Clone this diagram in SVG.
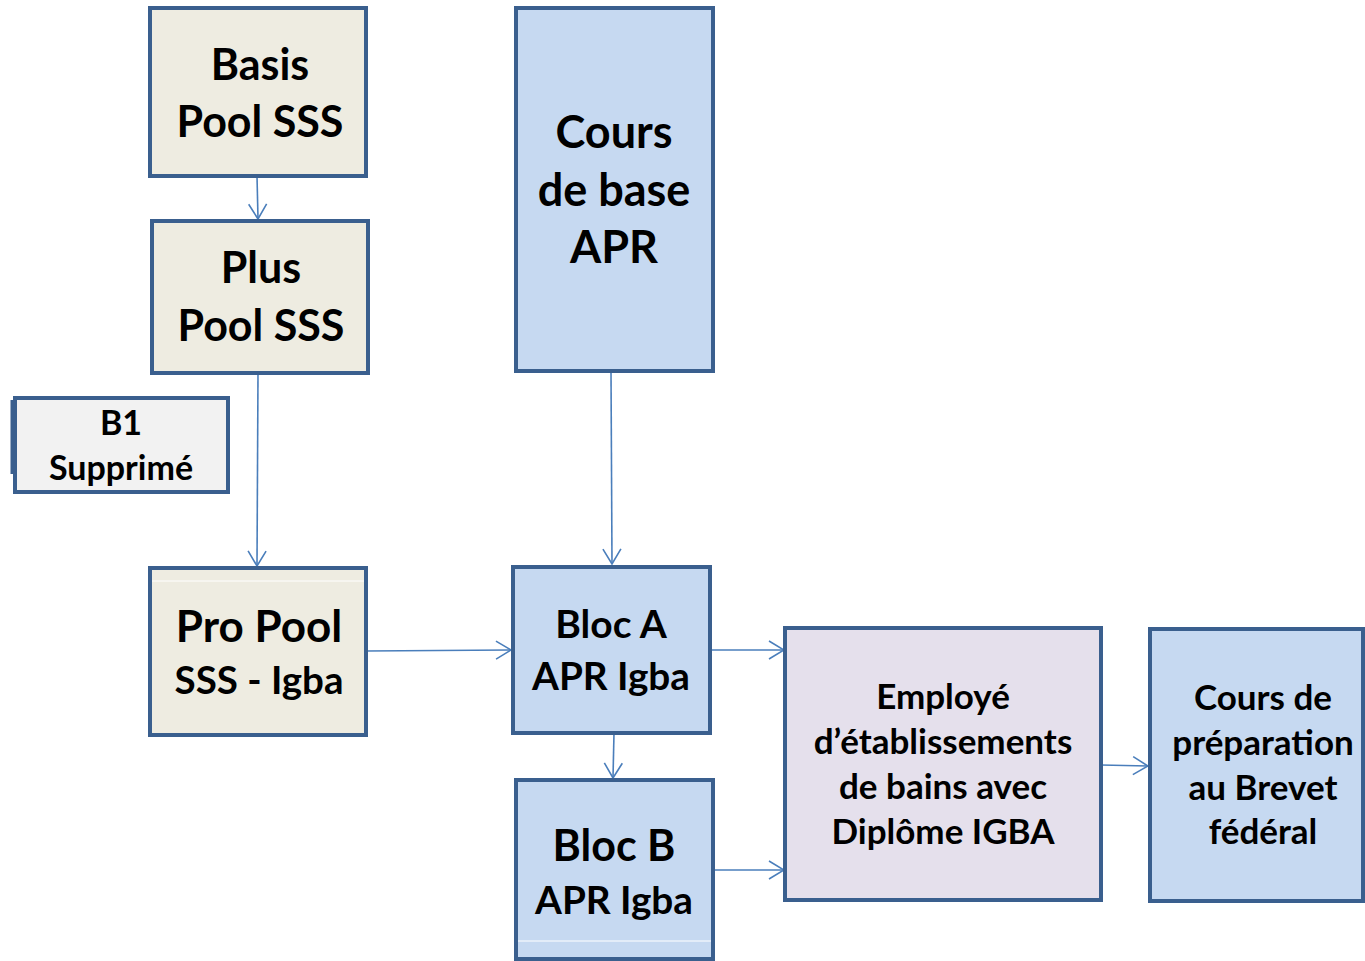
<svg xmlns="http://www.w3.org/2000/svg" width="1365" height="961" viewBox="0 0 1365 961">
<style>
.box{stroke:#3a5f8e;stroke-width:4;}
.beige{fill:#eeece1;}
.blue{fill:#c6d9f1;}
.grey{fill:#f2f2f2;}
.lilac{fill:#e5e0ec;}
text{font-family:Lato,"Open Sans","Liberation Sans",sans-serif;font-weight:bold;fill:#000;text-anchor:middle;}
.conn{stroke:#4a7ebb;stroke-width:1.6;fill:none;}
</style>
<defs>
<marker id="arr" viewBox="0 0 20 20" refX="19" refY="10" markerWidth="20" markerHeight="20" markerUnits="userSpaceOnUse" orient="auto">
<path d="M4,1 L19,10 L4,19" fill="none" stroke="#4a7ebb" stroke-width="1.6"/>
</marker>
</defs>
<rect width="1365" height="961" fill="#fff"/>
<g id="connectors">
<line class="conn" x1="257" y1="176" x2="258" y2="219" marker-end="url(#arr)"/>
<line class="conn" x1="258" y1="373" x2="257" y2="566" marker-end="url(#arr)"/>
<line class="conn" x1="611" y1="371" x2="612" y2="564" marker-end="url(#arr)"/>
<line class="conn" x1="366" y1="651" x2="511" y2="650" marker-end="url(#arr)"/>
<line class="conn" x1="614" y1="733" x2="613" y2="778" marker-end="url(#arr)"/>
<line class="conn" x1="710" y1="650" x2="784" y2="650" marker-end="url(#arr)"/>
<line class="conn" x1="714" y1="870" x2="784" y2="870" marker-end="url(#arr)"/>
<line class="conn" x1="1101" y1="765" x2="1148" y2="766" marker-end="url(#arr)"/>
</g>
<g id="basis">
<rect class="box beige" x="150" y="8" width="216" height="168"/>
<text x="260" y="80" font-size="43">Basis</text>
<text x="260" y="137" font-size="43">Pool SSS</text>
</g>
<g id="plus">
<rect class="box beige" x="152" y="221" width="216" height="152"/>
<text x="261" y="283" font-size="43">Plus</text>
<text x="261" y="341" font-size="43">Pool SSS</text>
</g>
<g id="b1">
<line x1="12" y1="400" x2="12" y2="474" stroke="#3a5f8e" stroke-width="3"/>
<rect class="box grey" x="15" y="398" width="213" height="94"/>
<text x="121" y="435" font-size="34">B1</text>
<text x="121" y="480" font-size="34">Supprimé</text>
</g>
<g id="propool">
<rect class="box beige" x="150" y="568" width="216" height="167"/>
<line x1="152" y1="581" x2="364" y2="581" stroke="#fff" stroke-width="1"/>
<text x="259" y="642" font-size="44">Pro Pool</text>
<text x="259" y="694" font-size="38.5">SSS - Igba</text>
</g>
<g id="coursbase">
<rect class="box blue" x="516" y="8" width="197" height="363"/>
<text x="614" y="148" font-size="45">Cours</text>
<text x="614" y="206" font-size="45">de base</text>
<text x="614" y="263" font-size="45">APR</text>
</g>
<g id="bloca">
<rect class="box blue" x="513" y="567" width="197" height="166"/>
<text x="611" y="638" font-size="39">Bloc A</text>
<text x="611" y="690" font-size="38.7">APR Igba</text>
</g>
<g id="blocb">
<rect class="box blue" x="516" y="780" width="197" height="179"/>
<line x1="518" y1="941" x2="711" y2="941" stroke="#fff" stroke-width="1"/>
<text x="614" y="861" font-size="43">Bloc B</text>
<text x="614" y="914" font-size="38.7">APR Igba</text>
</g>
<g id="employe">
<rect class="box lilac" x="785" y="628" width="316" height="272"/>
<text x="943" y="709" font-size="35">Employé</text>
<text x="943" y="754" font-size="35">d’établissements</text>
<text x="943" y="799" font-size="35">de bains avec</text>
<text x="943" y="844" font-size="35">Diplôme IGBA</text>
</g>
<g id="brevet">
<rect class="box blue" x="1150" y="629" width="213" height="272"/>
<text x="1263" y="710" font-size="35">Cours de</text>
<text x="1263" y="755" font-size="35">préparation</text>
<text x="1263" y="800" font-size="35">au Brevet</text>
<text x="1263" y="844" font-size="35">fédéral</text>
</g>
</svg>
